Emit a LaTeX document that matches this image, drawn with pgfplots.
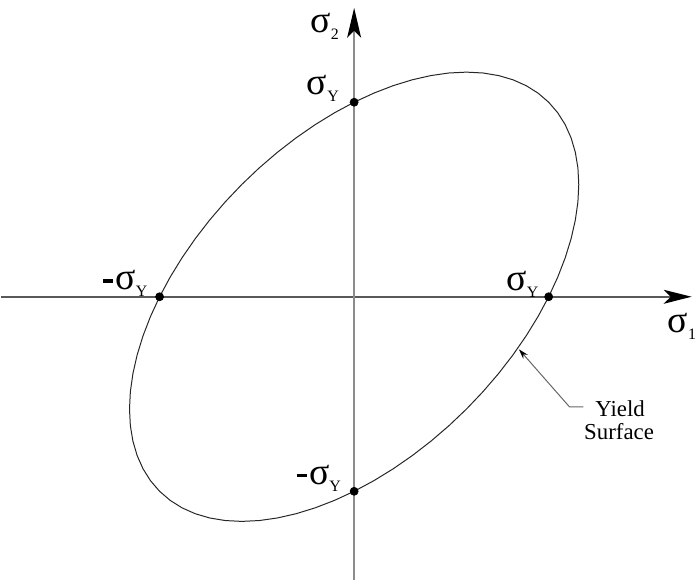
\documentclass[border=0pt]{standalone}
\usepackage{fontspec}
\setmainfont{Liberation Serif}
\usepackage{pgfplots}
\pgfplotsset{compat=1.18}
\usetikzlibrary{arrows.meta}

% stress symbol with an upright subscript
\newcommand{\sig}[1]{{\fontsize{19}{19}\selectfont σ}\raisebox{-3.5pt}{\fontsize{8}{8}\selectfont #1}}
\newcommand{\minusbar}{\rule[3.6pt]{5pt}{1.8pt}\hspace{1.2pt}}

\begin{document}
\begin{tikzpicture}
\begin{axis}[
  scale only axis,
  width=348pt, height=292pt,
  xmin=-1.8163, xmax=1.7347,
  ymin=-1.4541, ymax=1.5255,
  hide axis,
  clip=false,
]
\path (rel axis cs:0,0) rectangle (rel axis cs:1,1);

% principal stress axes
\draw[black!65, line width=0.8pt, -{Stealth[length=14pt, width=7pt, inset=3.5pt, color=black]}]
  (axis cs:-1.8163,0) -- (axis cs:1.7347,0);
\draw[black!45, line width=0.8pt, -{Stealth[length=15pt, width=7pt, inset=3.5pt, color=black]}]
  (axis cs:0,-1.4541) -- (axis cs:0,1.485);

% von Mises yield ellipse  s1^2 - s1 s2 + s2^2 = sY^2
\addplot[black!85, line width=0.5pt] coordinates {
(1,1) (0.94587,1.04651) (0.88455,1.08507) (0.81650,1.11535) (0.74222,1.13716)
(0.66231,1.15031) (0.57735,1.15471) (0.48799,1.15031) (0.39493,1.13715)
(0.29886,1.11536) (0.20051,1.08507) (0.10064,1.04652) (0,1)
(-0.10064,0.94588) (-0.20051,0.88455) (-0.29886,0.81650) (-0.39493,0.74222)
(-0.48799,0.66231) (-0.57735,0.57735) (-0.66231,0.48799) (-0.74222,0.39493)
(-0.81650,0.29886) (-0.88455,0.20051) (-0.94588,0.10064) (-1,0)
(-1.04652,-0.10064) (-1.08507,-0.20051) (-1.11536,-0.29886) (-1.13715,-0.39493)
(-1.15031,-0.48799) (-1.15471,-0.57735) (-1.15031,-0.66231) (-1.13716,-0.74222)
(-1.11535,-0.81650) (-1.08507,-0.88455) (-1.04651,-0.94587) (-1,-1)
(-0.94587,-1.04651) (-0.88455,-1.08507) (-0.81650,-1.11535) (-0.74222,-1.13716)
(-0.66231,-1.15031) (-0.57735,-1.15471) (-0.48799,-1.15031) (-0.39493,-1.13715)
(-0.29886,-1.11536) (-0.20051,-1.08507) (-0.10064,-1.04652) (0,-1)
(0.10064,-0.94588) (0.20051,-0.88455) (0.29886,-0.81650) (0.39493,-0.74222)
(0.48799,-0.66231) (0.57735,-0.57735) (0.66231,-0.48799) (0.74222,-0.39493)
(0.81650,-0.29886) (0.88455,-0.20051) (0.94588,-0.10064) (1,0)
(1.04652,0.10064) (1.08507,0.20051) (1.11536,0.29886) (1.13715,0.39493)
(1.15031,0.48799) (1.15471,0.57735) (1.15031,0.66231) (1.13716,0.74222)
(1.11535,0.81650) (1.08507,0.88455) (1.04651,0.94587) (1,1)
};

% uniaxial yield points
\addplot[only marks, mark=*, mark size=2pt, black] coordinates {
(1,0) (-1,0) (0,1) (0,-1)
};

% labels
\node[anchor=base east, inner sep=0pt] at (axis cs:-0.077,1.357) {\sig{2}};
\node[anchor=base west, inner sep=0pt] at (axis cs:1.610,-0.184) {\sig{1}};
\node[anchor=base east, inner sep=0pt] at (axis cs:-0.077,1.041) {\sig{Y}};
\node[anchor=base east, inner sep=0pt] at (axis cs:0.949,0.031) {\sig{Y}};
\node[anchor=base east, inner sep=0pt] at (axis cs:-1.061,0.036) {\minusbar\sig{Y}};
\node[anchor=base east, inner sep=0pt] at (axis cs:-0.066,-0.964) {\minusbar\sig{Y}};

% leader to the yield surface
\draw[black!60, line width=0.5pt, -{Stealth[length=5pt, width=3pt, color=black]}]
  (axis cs:1.179,-0.566) -- (axis cs:1.107,-0.566) -- (axis cs:0.847,-0.270);
\node[anchor=base, inner sep=0pt, font=\fontsize{11.5}{11.5}\selectfont]
  at (axis cs:1.367,-0.617) {Yield};
\node[anchor=base, inner sep=0pt, font=\fontsize{11.5}{11.5}\selectfont]
  at (axis cs:1.362,-0.735) {Surface};
\end{axis}
\end{tikzpicture}
\end{document}
